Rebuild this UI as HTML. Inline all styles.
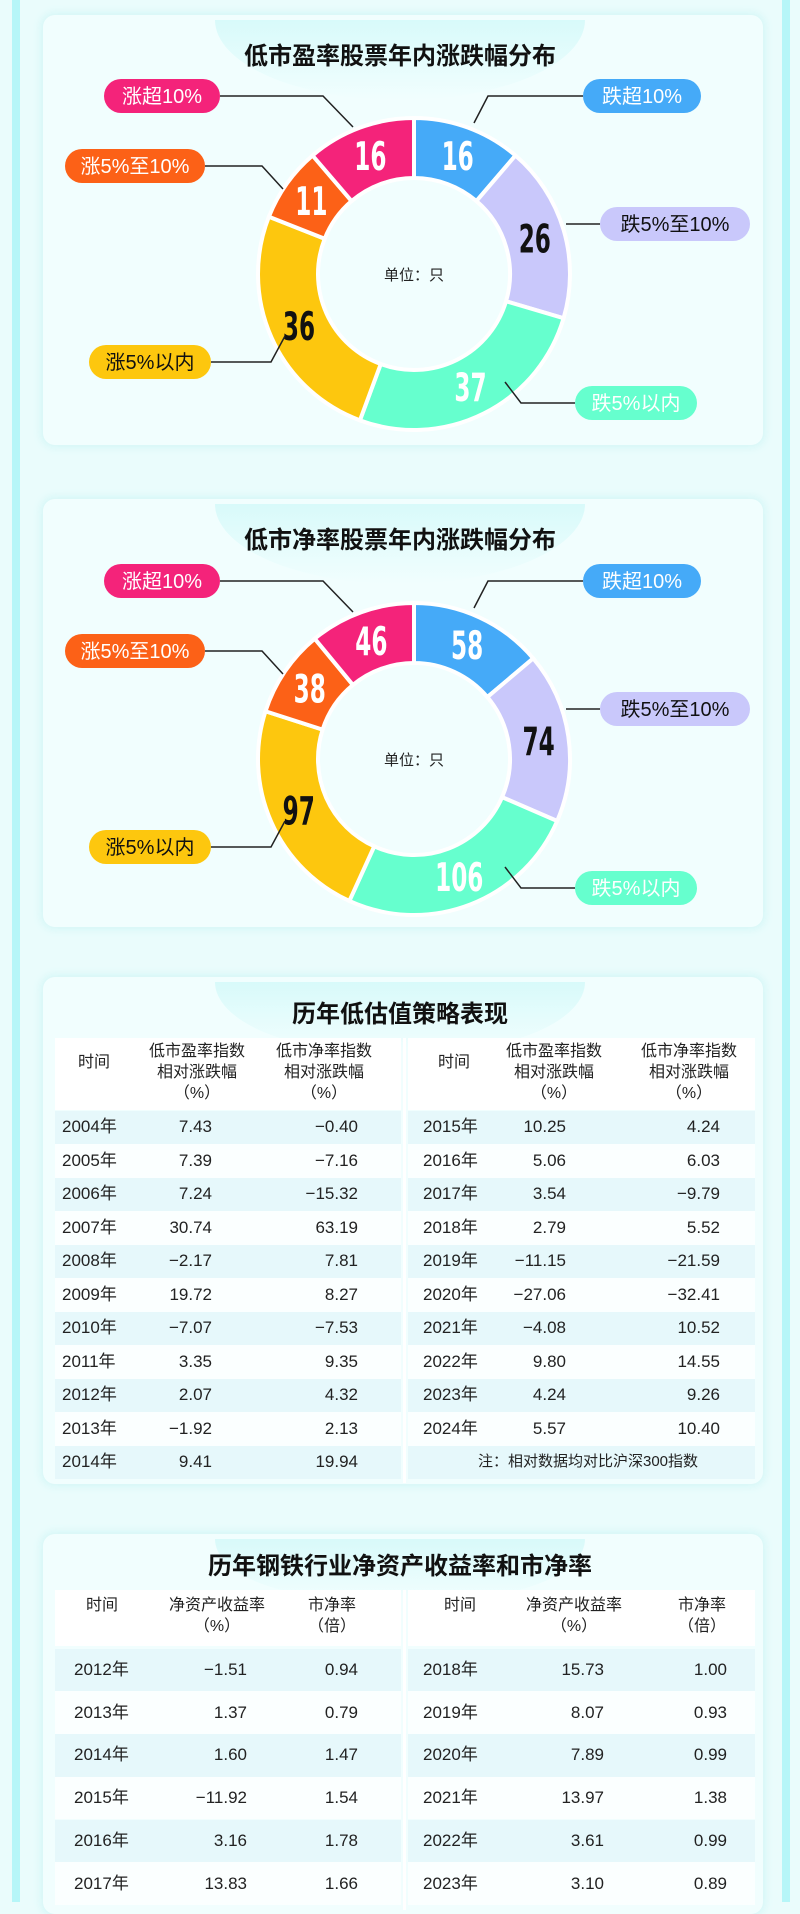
<!DOCTYPE html>
<html><head><meta charset="utf-8">
<style>
*{margin:0;padding:0;box-sizing:border-box}
body{width:800px;height:1902px;overflow:hidden;background:#eafcfc;font-family:"Liberation Sans","Noto Sans CJK SC",sans-serif;position:relative;color:#222}
.frame{position:absolute;top:0;width:8px;height:1902px;background:#b6f6f8}
.panel{position:absolute;left:43px;width:720px;background:#f1fefe;border-radius:12px;box-shadow:0 0 8px 3px #d6f7f7}
.title{position:absolute;left:0;width:800px;text-align:center;font-weight:bold;font-size:24px;line-height:32px;color:#111;font-family:"Noto Sans CJK SC",sans-serif}
.glow{position:absolute;left:215px;width:370px;height:80px;border-radius:0 0 185px 185px/0 0 80px 80px;background:linear-gradient(#d8fafa,#f1fefe)}
.t{position:absolute;font-size:17px;line-height:22px;height:22px;color:#222;white-space:nowrap;font-family:"Liberation Sans","Noto Sans CJK SC",sans-serif}
.row{position:absolute;height:34px}
svg{position:absolute;left:0;top:0}
</style></head><body>
<div class="frame" style="left:12px"></div>
<div class="frame" style="left:782px"></div>

<div class="panel" style="top:15px;height:430px"></div>
<div class="panel" style="top:499px;height:428px"></div>
<div class="panel" style="top:977px;height:507px"></div>
<div class="panel" style="top:1534px;height:380px"></div>
<div class="glow" style="top:20px"></div>
<div class="glow" style="top:504px"></div>
<div class="glow" style="top:982px;height:70px"></div>
<div class="glow" style="top:1539px;height:60px"></div>

<div class="title" style="top:38px">低市盈率股票年内涨跌幅分布</div>
<div class="title" style="top:522px">低市净率股票年内涨跌幅分布</div>
<div class="title" style="top:996px">历年低估值策略表现</div>
<div class="title" style="top:1548px">历年钢铁行业净资产收益率和市净率</div>

<div id="root"></div>
<svg id="sv" width="800" height="1902"></svg>

<script>
var sv=document.getElementById('sv'),root=document.getElementById('root');
var NS='http://www.w3.org/2000/svg';
function el(n,a,p){var e=document.createElementNS(NS,n);for(var k in a)e.setAttribute(k,a[k]);(p||sv).appendChild(e);return e;}
function pt(cx,cy,r,a){return [cx+r*Math.sin(a),cy-r*Math.cos(a)];}
var cols=['#45aaf8','#c9c8fb','#66ffce','#fdc70e','#fc6117','#f4237a'];
var tcol=['#fff','#111','#fff','#111','#fff','#fff'];
function donut(cy,vals,oy){
  var cx=414,R=156,r=96,tot=vals.reduce(function(a,b){return a+b},0),a0=0;
  vals.forEach(function(v,i){
    var a1=a0+v/tot*2*Math.PI,big=(a1-a0)>Math.PI?1:0;
    var p1=pt(cx,cy,R,a0),p2=pt(cx,cy,R,a1),p3=pt(cx,cy,r,a1),p4=pt(cx,cy,r,a0);
    el('path',{d:'M'+p1+' A'+R+' '+R+' 0 '+big+' 1 '+p2+' L'+p3+' A'+r+' '+r+' 0 '+big+' 0 '+p4+'Z',fill:cols[i],stroke:'#fff','stroke-width':4});
    var m=(a0+a1)/2,c=pt(cx,cy,126,m);
    var t=el('text',{x:c[0],y:c[1]+12,'text-anchor':'middle','font-size':33,'font-weight':'bold',fill:tcol[i],'font-family':'DejaVu Sans Condensed, sans-serif',transform:'translate('+c[0]+' '+(c[1])+') scale(0.78 1.2) translate('+(-c[0])+' '+(-c[1])+')'});
    t.textContent=v;a0=a1;
  });
  var u=el('text',{x:cx,y:cy+6,'text-anchor':'middle','font-size':15,fill:'#222','font-family':'Noto Sans CJK SC, sans-serif'});u.textContent='单位：只';
  var L=[
   [583,96,118,'跌超10%',cols[0],'#fff',[[583,96],[488,96],[474,123]]],
   [600,224,150,'跌5%至10%',cols[1],'#111',[[600,224],[566,224]]],
   [575,403,122,'跌5%以内',cols[2],'#fff',[[575,403],[521,403],[505,382]]],
   [89,362,122,'涨5%以内',cols[3],'#111',[[211,362],[271,362],[285,336]]],
   [65,166,140,'涨5%至10%',cols[4],'#fff',[[205,166],[262,166],[283,189]]],
   [104,96,116,'涨超10%',cols[5],'#fff',[[220,96],[323,96],[353,127]]]
  ];
  L.forEach(function(l){
    var pts=l[6].map(function(p){return p[0]+','+(p[1]+oy)}).join(' ');
    el('polyline',{points:pts,fill:'none',stroke:'#222','stroke-width':1.5});
    el('rect',{x:l[0],y:l[1]+oy-17,width:l[2],height:34,rx:17,fill:l[4]});
    var t=el('text',{x:l[0]+l[2]/2,y:l[1]+oy+7,'text-anchor':'middle','font-size':20,fill:l[5],'font-family':'Liberation Sans, Noto Sans CJK SC, sans-serif'});t.textContent=l[3];
  });
}
donut(274,[16,26,37,36,11,16],0);
donut(759,[58,74,106,97,38,46],485);

function txt(x,y,s,al,fs){var d=document.createElement('div');d.className='t';d.textContent=s;d.style.top=(y-11)+'px';if(fs)d.style.fontSize=fs+'px';
 if(al=='r'){d.style.right=(800-x)+'px';}else if(al=='c'){d.style.left=(x-100)+'px';d.style.width='200px';d.style.textAlign='center';}else d.style.left=x+'px';
 root.appendChild(d);}
function band(x,y,w,h,c){var d=document.createElement('div');d.className='row';d.style.cssText='left:'+x+'px;top:'+y+'px;width:'+w+'px;height:'+h+'px;background:'+c;root.appendChild(d);}
function hdr(x,y,lines){lines.forEach(function(s,i){txt(x,y+i*21,s,'c',16)});}

band(55,1038,346,72,'#fff');band(408,1038,347,72,'#fff');
var A=[['2004年','7.43','−0.40'],['2005年','7.39','−7.16'],['2006年','7.24','−15.32'],['2007年','30.74','63.19'],['2008年','−2.17','7.81'],['2009年','19.72','8.27'],['2010年','−7.07','−7.53'],['2011年','3.35','9.35'],['2012年','2.07','4.32'],['2013年','−1.92','2.13'],['2014年','9.41','19.94']];
var B=[['2015年','10.25','4.24'],['2016年','5.06','6.03'],['2017年','3.54','−9.79'],['2018年','2.79','5.52'],['2019年','−11.15','−21.59'],['2020年','−27.06','−32.41'],['2021年','−4.08','10.52'],['2022年','9.80','14.55'],['2023年','4.24','9.26'],['2024年','5.57','10.40']];
for(var i=0;i<11;i++){var y=1127+i*33.5;
 band(55,y-16.5,346,33.5,i%2==0?'#e6f8fb':'#fbffff');
 band(408,y-16.5,347,33.5,i%2==0?'#e6f8fb':'#fbffff');
 var a=A[i];txt(62,y,a[0]);txt(212,y,a[1],'r');txt(358,y,a[2],'r');
 if(B[i]){var b=B[i];txt(423,y,b[0]);txt(566,y,b[1],'r');txt(720,y,b[2],'r');}
}
txt(578,1462,'注：相对数据均对比沪深300指数','c',15);
hdr(94,1063,['时间']);hdr(197,1052,['低市盈率指数','相对涨跌幅','（%）']);hdr(324,1052,['低市净率指数','相对涨跌幅','（%）']);
hdr(454,1063,['时间']);hdr(554,1052,['低市盈率指数','相对涨跌幅','（%）']);hdr(689,1052,['低市净率指数','相对涨跌幅','（%）']);
var sep=document.createElement('div');sep.style.cssText='position:absolute;left:403px;top:1038px;width:3px;height:445px;background:#fff';root.appendChild(sep);

band(55,1590,346,56,'#fff');band(408,1590,347,56,'#fff');
var C=[['2012年','−1.51','0.94'],['2013年','1.37','0.79'],['2014年','1.60','1.47'],['2015年','−11.92','1.54'],['2016年','3.16','1.78'],['2017年','13.83','1.66']];
var D=[['2018年','15.73','1.00'],['2019年','8.07','0.93'],['2020年','7.89','0.99'],['2021年','13.97','1.38'],['2022年','3.61','0.99'],['2023年','3.10','0.89']];
for(var i=0;i<6;i++){var y=1670+i*42.7;
 band(55,y-21.3,346,42.7,i%2==0?'#e6f8fb':'#fbffff');band(408,y-21.3,347,42.7,i%2==0?'#e6f8fb':'#fbffff');
 txt(74,y,C[i][0]);txt(247,y,C[i][1],'r');txt(358,y,C[i][2],'r');
 txt(423,y,D[i][0]);txt(604,y,D[i][1],'r');txt(727,y,D[i][2],'r');
}
hdr(102,1606,['时间']);hdr(217,1606,['净资产收益率','（%）']);hdr(332,1606,['市净率','（倍）']);
hdr(460,1606,['时间']);hdr(574,1606,['净资产收益率','（%）']);hdr(702,1606,['市净率','（倍）']);
var sep2=document.createElement('div');sep2.style.cssText='position:absolute;left:403px;top:1590px;width:3px;height:320px;background:#fff';root.appendChild(sep2);
</script>
</body></html>
